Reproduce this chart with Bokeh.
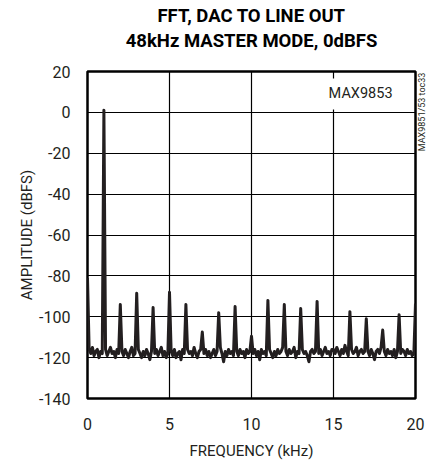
import math
from bokeh.plotting import figure
from bokeh.models import Range1d, Label, FixedTicker, LinearAxis
from bokeh.embed import file_html
from bokeh.resources import INLINE

# ---- data ----
title_line1 = "FFT, DAC TO LINE OUT"
title_line2 = "48kHz MASTER MODE, 0dBFS"
x_label = "FREQUENCY (kHz)"
y_label = "AMPLITUDE (dBFS)"
side_note = "MAX9851/53 toc33"
x_ticks = [0, 5, 10, 15, 20]
x_tick_labels = ["0", "5", "10", "15", "20"]
y_ticks = [-140, -120, -100, -80, -60, -40, -20, 0, 20]
y_tick_labels = ["-140", "-120", "-100", "-80", "-60", "-40", "-20", "0", "20"]
freq_step_khz = 0.1

# amplitude trace in dBFS, 10 samples per kHz (first of each row = bin at integer kHz)
amplitude = [
    -81, -116, -118, -115, -119, -117, -116, -120, -117, -118,      # 0 kHz (DC)
    1, -116, -119, -117, -115, -118, -117, -120, -116, -118,        # 1 kHz fundamental
    -94, -117, -119, -116, -118, -120, -117, -115, -119, -118,      # 2
    -88.5, -116, -118, -120, -117, -119, -116, -118, -121, -117,    # 3
    -95.5, -118, -116, -119, -117, -115, -119, -117, -120, -118,    # 4
    -88, -117, -119, -116, -120, -118, -117, -121, -116, -118,      # 5
    -94, -116, -118, -117, -119, -115, -118, -120, -117, -116,      # 6
    -107.5, -118, -116, -119, -117, -120, -118, -116, -119, -117,   # 7
    -98, -115, -118, -122, -117, -119, -116, -118, -117, -119,      # 8
    -95, -117, -119, -116, -118, -117, -120, -116, -118, -117,      # 9
    -109.5, -118, -116, -119, -117, -121, -116, -118, -117, -119,   # 10
    -92, -116, -118, -120, -117, -119, -116, -118, -117, -115,      # 11
    -94, -117, -119, -116, -118, -117, -115, -120, -117, -118,      # 12
    -96, -116, -118, -117, -119, -122, -117, -116, -118, -117,      # 13
    -92.5, -118, -116, -119, -117, -115, -118, -117, -119, -116,    # 14
    -116, -118, -115, -117, -119, -116, -118, -114, -117, -119,     # 15
    -97.5, -116, -118, -117, -115, -119, -117, -116, -118, -117,    # 16
    -101, -117, -119, -116, -118, -121, -117, -116, -118, -115,     # 17
    -106.5, -117, -119, -116, -118, -117, -119, -116, -120, -117,   # 18
    -99, -118, -116, -117, -119, -116, -118, -117, -119, -118,      # 19
    -93.5,                                                          # 20
]
frequency = [round(i * freq_step_khz, 2) for i in range(len(amplitude))]

FONT = "Roboto"
INK = "#231f20"

p = figure(width=438, height=462, output_backend="svg", toolbar_location=None,
           x_range=Range1d(0, 20), y_range=Range1d(-140, 20),
           min_border_left=87, min_border_right=23, min_border_top=71, min_border_bottom=64,
           background_fill_color="white", border_fill_color="white")
p.title.visible = False

xax = p.below[0]
yax = p.left[0]


def text_axis(tick, text, size, standoff, bold=False, orientation="horizontal"):
    """A tick-less axis that only carries one text label (used for titles / notes)."""
    return LinearAxis(ticker=FixedTicker(ticks=[tick]), major_label_overrides={tick: text},
                      major_label_orientation=orientation, major_label_standoff=standoff,
                      major_label_text_font=FONT, major_label_text_font_size=size,
                      major_label_text_font_style="bold" if bold else "normal",
                      major_label_text_color="black" if bold else INK,
                      axis_line_color=None, major_tick_line_color=None,
                      minor_tick_line_color=None, major_tick_out=0, major_tick_in=0)


# two-line title (centred over the frame), nearest line added first
p.add_layout(text_axis(10, title_line2, "18.5px", 20, bold=True), "above")
p.add_layout(text_axis(10, title_line1, "18.5px", 0, bold=True), "above")

p.line(frequency, amplitude, line_color=INK, line_width=3, line_join="round")

xax.ticker = FixedTicker(ticks=x_ticks)
yax.ticker = FixedTicker(ticks=y_ticks)
xax.major_label_overrides = dict(zip(x_ticks, x_tick_labels))
yax.major_label_overrides = dict(zip(y_ticks, y_tick_labels))
xax.axis_label = x_label
yax.axis_label = y_label
for ax in (xax, yax):
    ax.axis_line_color = None
    ax.major_tick_line_color = None
    ax.minor_tick_line_color = None
    ax.major_tick_out = 0
    ax.major_tick_in = 0
    ax.major_label_text_font = FONT
    ax.major_label_text_font_size = "16px"
    ax.major_label_text_color = INK
    ax.axis_label_text_font = FONT
    ax.axis_label_text_font_size = "15px"
    ax.axis_label_text_font_style = "normal"
    ax.axis_label_text_color = INK
yax.major_label_standoff = 17
xax.major_label_standoff = 19
yax.axis_label_standoff = 0
xax.axis_label_standoff = 9

# side note, rotated, to the right of the frame
p.add_layout(text_axis(-19, side_note, "9px", 7, orientation=math.pi / 2), "right")

p.xgrid.grid_line_color = "black"
p.ygrid.grid_line_color = "black"
p.xgrid.grid_line_width = 1.2
p.ygrid.grid_line_width = 1.2
p.outline_line_color = "black"
p.outline_line_width = 2.5

p.add_layout(Label(x=16.65, y=9, text="MAX9853", text_font=FONT, text_font_size="14.5px",
                   text_color=INK, text_align="center", text_baseline="middle",
                   background_fill_color="white", padding=7))

open("out.html", "w").write(file_html(p, INLINE))
